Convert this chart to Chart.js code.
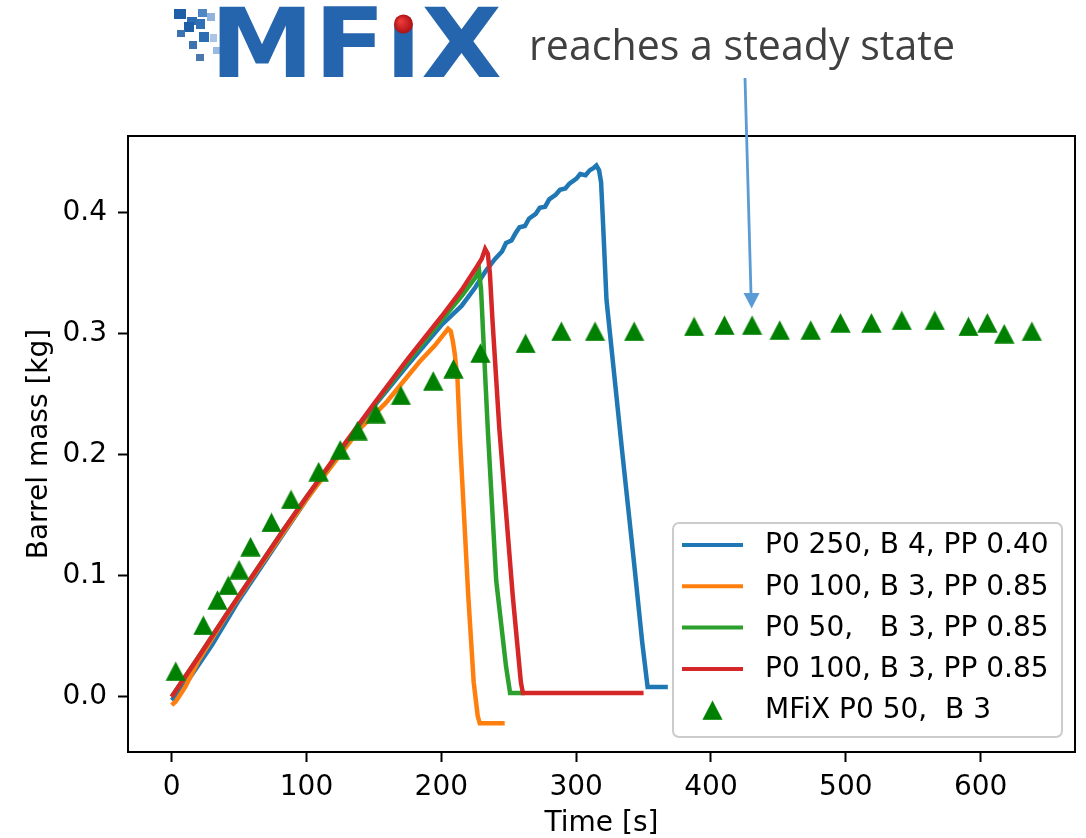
<!DOCTYPE html>
<html>
<head>
<meta charset="utf-8">
<title>Barrel mass</title>
<script src="https://cdn.jsdelivr.net/npm/chart.js@4.4.1/dist/chart.umd.min.js"></script>
<style>
  html, body { margin: 0; padding: 0; background: #fff; }
  #graph { position: absolute; left: 0; top: 0; }
</style>
</head>
<body>
<canvas id="graph" width="1086" height="838"></canvas>
<script>
// P0 250, B 4, PP 0.40
const blueTime = [0, 10, 30, 50, 80, 100, 125, 150, 175, 200, 215, 225, 233, 240, 245, 248, 252, 255, 258, 262, 265, 270, 273, 277, 280, 285, 288, 292, 295, 300, 303, 307, 310, 313, 315, 317, 318.5, 320, 322.5, 334, 343, 349, 353, 368];
const blueMass = [-0.003, 0.010, 0.043, 0.080, 0.130, 0.163, 0.202, 0.240, 0.274, 0.307, 0.323, 0.338, 0.352, 0.362, 0.368, 0.375, 0.377, 0.383, 0.388, 0.389, 0.395, 0.399, 0.404, 0.405, 0.411, 0.415, 0.419, 0.420, 0.424, 0.428, 0.432, 0.431, 0.435, 0.437, 0.439, 0.435, 0.425, 0.390, 0.328, 0.204, 0.110, 0.045, 0.008, 0.008];

// P0 100, B 3, PP 0.85 (first run)
const orangeTime = [0, 3, 10, 20, 40, 60, 83, 100, 125, 140, 150, 159, 170, 184, 195, 200, 205, 207, 208.5, 210, 212, 214, 220, 224, 227, 228.5, 247];
const orangeMass = [-0.007, -0.004, 0.008, 0.030, 0.066, 0.099, 0.136, 0.163, 0.200, 0.222, 0.233, 0.243, 0.258, 0.277, 0.290, 0.297, 0.304, 0.302, 0.294, 0.283, 0.262, 0.210, 0.083, 0.012, -0.016, -0.022, -0.022];

// P0 50, B 3, PP 0.85
const greenTime = [0, 20, 40, 60, 83, 100, 125, 150, 175, 200, 215, 225, 228, 229.5, 231, 234.5, 240.7, 248, 251, 262];
const greenMass = [0.000, 0.033, 0.067, 0.100, 0.138, 0.165, 0.203, 0.241, 0.277, 0.311, 0.331, 0.346, 0.352, 0.336, 0.300, 0.220, 0.096, 0.025, 0.003, 0.003];

// P0 100, B 3, PP 0.85 (second run)
const redTime = [0, 20, 40, 60, 83, 100, 125, 150, 175, 200, 215, 225, 230, 232.5, 234.5, 236, 238, 243, 253, 259, 260.5, 350];
const redMass = [0.000, 0.033, 0.067, 0.100, 0.138, 0.165, 0.204, 0.242, 0.279, 0.314, 0.336, 0.353, 0.362, 0.370, 0.366, 0.350, 0.310, 0.222, 0.083, 0.012, 0.003, 0.003];

// MFiX P0 50, B 3
const mfixTime = [3, 23.5, 34, 42, 50, 58.5, 74, 88.5, 109, 125, 138, 151.5, 170, 194, 209, 229, 262.5, 289, 314, 343, 387.5, 410, 430.5, 451, 474, 496, 519, 541.5, 566, 591, 605, 617.5, 638];
const mfixMass = [0.021, 0.059, 0.080, 0.092, 0.105, 0.124, 0.144, 0.163, 0.186, 0.204, 0.220, 0.234, 0.249, 0.261, 0.271, 0.284, 0.292, 0.302, 0.302, 0.302, 0.306, 0.307, 0.307, 0.303, 0.303, 0.309, 0.309, 0.311, 0.311, 0.306, 0.309, 0.300, 0.302];

const seriesLabels = ['P0 250, B 4, PP 0.40', 'P0 100, B 3, PP 0.85', 'P0 50,   B 3, PP 0.85', 'P0 100, B 3, PP 0.85', 'MFiX P0 50,  B 3'];
const seriesColors = ['#1f77b4', '#ff7f0e', '#2ca02c', '#d62728', '#008000'];
const xTicks = [0, 100, 200, 300, 400, 500, 600];
const yTicks = [0, 0.1, 0.2, 0.3, 0.4];

const FONT = 'DejaVu Sans';
Chart.defaults.font.family = FONT;
Chart.defaults.font.size = 28;
Chart.defaults.color = '#000';

const toPoints = (xs, ys) => xs.map((x, i) => ({x: x, y: ys[i]}));

// matplotlib-style '^' marker
const tri = document.createElement('canvas');
tri.width = 21;
tri.height = 20;
(() => {
    const c = tri.getContext('2d');
    c.fillStyle = '#008000';
    c.beginPath();
    c.moveTo(10.5, 0.3);
    c.lineTo(20.7, 19.7);
    c.lineTo(0.3, 19.7);
    c.closePath();
    c.fill();
})();

const lineSet = (i, xs, ys) => ({
    label: seriesLabels[i],
    data: toPoints(xs, ys),
    showLine: true,
    borderColor: seriesColors[i],
    backgroundColor: seriesColors[i],
    borderWidth: 4.5,
    pointRadius: 0,
    tension: 0,
    order: 5 - i
});

// frame, axis titles, legend box
const decorations = {
    id: 'decorations',
    afterDatasetsDraw(chart) {
        const ctx = chart.ctx;
        const a = chart.chartArea;
        ctx.save();
        ctx.strokeStyle = '#000';
        ctx.lineWidth = 2;
        ctx.strokeRect(a.left, a.top, a.right - a.left, a.bottom - a.top);

        ctx.fillStyle = '#000';
        ctx.font = '28px "' + FONT + '"';
        ctx.textAlign = 'center';
        ctx.textBaseline = 'alphabetic';
        ctx.fillText('Time [s]', (a.left + a.right) / 2, 831);
        ctx.save();
        ctx.translate(47, (a.top + a.bottom) / 2);
        ctx.rotate(-Math.PI / 2);
        ctx.fillText('Barrel mass [kg]', 0, 0);
        ctx.restore();

        // legend
        const lx = 673, ly = 523, lw = 389, lh = 214;
        ctx.beginPath();
        ctx.roundRect(lx, ly, lw, lh, 6);
        ctx.fillStyle = 'rgba(255,255,255,0.8)';
        ctx.fill();
        ctx.strokeStyle = '#cccccc';
        ctx.lineWidth = 2;
        ctx.stroke();
        ctx.textAlign = 'left';
        ctx.textBaseline = 'middle';
        seriesLabels.forEach((lab, i) => {
            const y = 545 + i * 41.3;
            if (i < 4) {
                ctx.strokeStyle = seriesColors[i];
                ctx.lineWidth = 4;
                ctx.beginPath();
                ctx.moveTo(682, y);
                ctx.lineTo(743, y);
                ctx.stroke();
            } else {
                ctx.drawImage(tri, 712.5 - tri.width / 2, y - tri.height / 2);
            }
            ctx.fillStyle = '#000';
            ctx.fillText(lab, 765, y + 1);
        });
        ctx.restore();
    },
    afterDraw(chart) {
        const ctx = chart.ctx;
        ctx.save();

        // logo pixels
        const px = [[174, 9, 12, 10, '#1d5ea6'], [187, 17, 10, 8, '#2a6db4'], [198, 9, 9, 8, '#4f86c4'], [207, 13, 8, 8, '#8fb3dc'],
                    [184, 22, 10, 10, '#1d5ea6'], [196, 19, 9, 10, '#2f6fb5'], [177, 30, 8, 7, '#3d72b0'], [199, 32, 10, 10, '#2a6db4'],
                    [210, 34, 7, 8, '#a9c4e4'], [189, 41, 8, 8, '#3d72b0'], [213, 47, 8, 7, '#9ab9df'], [196, 54, 8, 7, '#4a78ad']];
        px.forEach(p => { ctx.fillStyle = p[4]; ctx.fillRect(p[0], p[1], p[2], p[3]); });

        // logo lettering
        ctx.font = 'bold 96px "' + FONT + '"';
        ctx.textBaseline = 'alphabetic';
        ctx.textAlign = 'left';
        const word = 'MFıX';
        const w = ctx.measureText(word).width;
        const sx = 292 / w;
        const grad = ctx.createLinearGradient(0, 8, 0, 78);
        grad.addColorStop(0, '#2565ad');
        grad.addColorStop(0.5, '#1a5599');
        grad.addColorStop(1, '#0d3f7c');
        ctx.fillStyle = grad;
        ctx.save();
        ctx.translate(210, 77);
        ctx.scale(sx, 1);
        ctx.fillText(word, 0, 0);
        ctx.restore();
        const iCenter = 210 + (ctx.measureText('MF').width + ctx.measureText('ı').width / 2) * sx;
        const ball = ctx.createRadialGradient(iCenter - 3, 21, 1, iCenter, 24, 10);
        ball.addColorStop(0, '#ee3a3a');
        ball.addColorStop(1, '#a80f12');
        ctx.fillStyle = ball;
        ctx.beginPath();
        ctx.arc(iCenter, 24, 9.5, 0, Math.PI * 2);
        ctx.fill();

        // heading
        ctx.font = '42px "Open Sans"';
        ctx.fillStyle = '#404040';
        const head = 'reaches a steady state';
        const hw = ctx.measureText(head).width;
        ctx.save();
        ctx.translate(529, 60);
        ctx.scale(426 / hw, 1);
        ctx.fillText(head, 0, 0);
        ctx.restore();

        // arrow
        ctx.strokeStyle = '#5b9bd5';
        ctx.fillStyle = '#5b9bd5';
        ctx.lineWidth = 2.8;
        ctx.beginPath();
        ctx.moveTo(745, 78);
        ctx.lineTo(751, 294);
        ctx.stroke();
        ctx.beginPath();
        ctx.moveTo(743.5, 293);
        ctx.lineTo(759.5, 293);
        ctx.lineTo(751.7, 308.5);
        ctx.closePath();
        ctx.fill();
        ctx.restore();
    }
};

new Chart(document.getElementById('graph').getContext('2d'), {
    type: 'scatter',
    data: {
        datasets: [
            lineSet(0, blueTime, blueMass),
            lineSet(1, orangeTime, orangeMass),
            lineSet(2, greenTime, greenMass),
            lineSet(3, redTime, redMass),
            {
                label: seriesLabels[4],
                data: toPoints(mfixTime, mfixMass),
                showLine: false,
                pointStyle: tri,
                pointRadius: 10,
                pointHoverRadius: 10,
                order: 0
            }
        ]
    },
    options: {
        responsive: false,
        animation: false,
        events: [],
        layout: { padding: { left: 0, top: 136, right: 10, bottom: 0 } },
        plugins: { legend: { display: false }, tooltip: { enabled: false } },
        scales: {
            x: {
                type: 'linear',
                min: -32.4,
                max: 670,
                afterBuildTicks: s => { s.ticks = xTicks.map(v => ({value: v})); },
                afterFit: s => { s.height = 86; },
                ticks: { padding: 9, callback: v => String(v), maxRotation: 0 },
                grid: { drawOnChartArea: false, drawTicks: true, tickLength: 10, tickWidth: 2, tickColor: '#000' },
                border: { display: true, color: '#000', width: 2 }
            },
            y: {
                type: 'linear',
                min: -0.0457,
                max: 0.4634,
                afterBuildTicks: s => { s.ticks = yTicks.map(v => ({value: v})); },
                afterFit: s => { s.width = 128; },
                ticks: { padding: 11, callback: v => v.toFixed(1) },
                grid: { drawOnChartArea: false, drawTicks: true, tickLength: 10, tickWidth: 2, tickColor: '#000' },
                border: { display: true, color: '#000', width: 2 }
            }
        }
    },
    plugins: [decorations]
});
</script>
</body>
</html>
